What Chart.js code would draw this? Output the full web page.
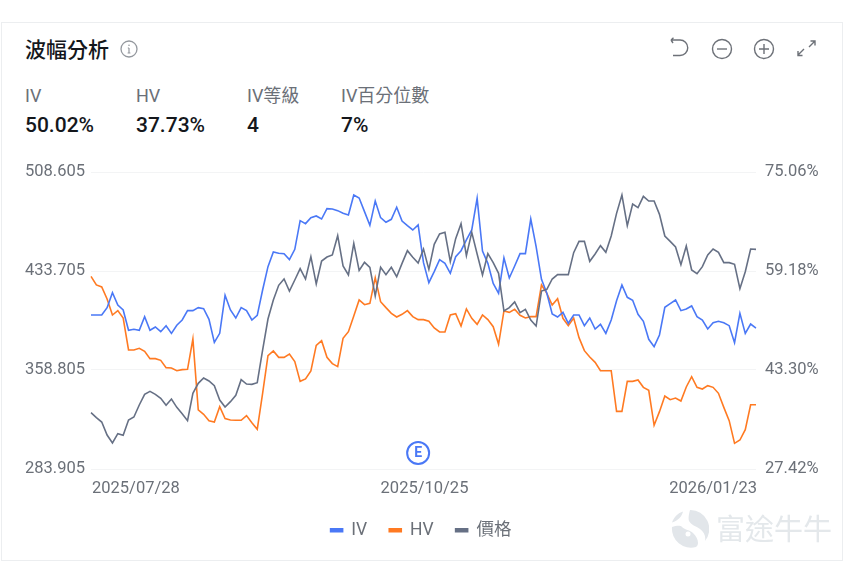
<!DOCTYPE html>
<html>
<head>
<meta charset="utf-8">
<title>波幅分析</title>
<script src="https://cdn.jsdelivr.net/npm/chart.js@4"></script>
<style>
    html, body { margin: 0; padding: 0; background: #fff; width: 852px; height: 566px; overflow: hidden; }
    body { font-family: Roboto, "Noto Sans CJK TC", sans-serif; position: relative; }
    #card { position: absolute; left: 1px; top: 22px; width: 840px; height: 537px; border: 1px solid #eceef0; background: #fff; }
    #title { position: absolute; left: 25px; top: 36px; font-size: 21px; line-height: 28px; font-weight: 500; color: #14171c; }
    .stat { position: absolute; top: 85px; }
    .stat .name { font-size: 18px; line-height: 22px; color: #6b7078; }
    .stat .val { margin-top: 6px; font-size: 21px; line-height: 24px; font-weight: 500; color: #14171c; }
    .icon { position: absolute; }
    #mark { position: absolute; left: 671px; top: 510px; width: 38px; height: 38px; }
    #markText { position: absolute; left: 716px; top: 511px; font-size: 29px; line-height: 38px; color: #e4e8eb; font-weight: 400; }
    #chart { position: absolute; left: 1px; top: 150px; }
</style>
</head>
<body>
<div id="card"></div>
<div id="title">波幅分析</div>
<svg class="icon" style="left:120px;top:40px" width="18" height="18" viewBox="0 0 18 18" fill="none" stroke="#94989e" stroke-width="1.3">
    <circle cx="9" cy="9" r="8"/>
    <path d="M9 8v5M7.6 13h2.8M7.8 8H9" stroke-width="1.2"/>
    <circle cx="9" cy="5.2" r="0.8" fill="#94989e" stroke="none"/>
</svg>
<div class="stat" style="left:25px"><div class="name">IV</div><div class="val">50.02%</div></div>
<div class="stat" style="left:136px"><div class="name">HV</div><div class="val">37.73%</div></div>
<div class="stat" style="left:247px"><div class="name">IV等級</div><div class="val">4</div></div>
<div class="stat" style="left:341px"><div class="name">IV百分位數</div><div class="val">7%</div></div>

<!-- toolbar -->
<svg class="icon" style="left:668px;top:36px" width="152" height="26" viewBox="0 0 152 26" fill="none" stroke="#6d7178" stroke-width="1.4">
    <path d="M3 4h9a7.5 7.5 0 0 1 0 15.500H5M3 4l2.500-2.200M3 4l2 3"/>
    <circle cx="54" cy="13" r="9.500"/>
    <path d="M49 13h10"/>
    <circle cx="96" cy="13" r="9.500"/>
    <path d="M91 13h10M96 8v10"/>
    <path d="M130 19l6-6M130 15v4.500h4.500M141 11l6-6M142.500 5h4.500v4.500"/>
</svg>

<canvas id="chart" width="840" height="409"></canvas>

<svg id="mark" viewBox="0 0 38 38">
    <path fill="#e2e6ea" d="M19 0a19 19 0 0 1 15 31c1-5-1-9-5-12-4-3-9-4-11-8-1-3 0-7 1-11zM12 1.500c-1 5-5 9-11 11C3 7 7 3 12 1.500zM1 17c4-1 8-2 10 0 3 3 8 3 11 6 3 3 5 6 5 10 0 2-1 3-2 4a19 19 0 0 1-24-20z"/>
    <circle cx="17" cy="24" r="2.500" fill="#fff"/>
</svg>
<div id="markText">富途牛牛</div>

<script>
const tickDates = ['2025/07/28', '2025/10/25', '2026/01/23'];
const tickIndexes = [0, 62, 124];
const pointCount = 125;

const priceTicks = [283.905, 358.805, 433.705, 508.605];
const pctTicks = [27.42, 43.30, 59.18, 75.06];

const ivValues = [
    52.12, 52.12, 52.12, 53.30, 55.71, 53.73, 52.93, 49.67, 49.83, 49.67,
    51.86, 49.67, 50.20, 49.45, 50.41, 49.18, 50.47, 51.32, 52.82, 52.82,
    53.30, 53.14, 51.43, 47.74, 49.18, 55.28, 52.93, 51.64, 53.30, 52.82,
    51.32, 52.07, 56.13, 59.88, 62.23, 62.02, 61.96, 61.00, 62.66, 67.26,
    66.78, 67.74, 68.01, 67.52, 69.18, 69.13, 68.86, 68.43, 68.17, 71.37,
    70.89, 68.70, 66.51, 70.41, 67.74, 66.99, 67.47, 69.40, 67.20, 66.45,
    65.76, 66.56, 60.52, 57.31, 59.08, 61.00, 60.41, 58.81, 61.48, 62.44,
    64.16, 65.76, 70.84, 62.39, 60.41, 57.20, 55.60, 61.27, 58.06, 59.98,
    61.96, 61.96, 67.52, 63.09, 57.85, 55.60, 52.29, 51.80, 52.55, 50.79,
    52.12, 52.12, 50.41, 51.64, 49.88, 50.63, 49.18, 51.32, 54.42, 56.94,
    54.96, 54.48, 52.23, 51.11, 48.22, 47.04, 48.92, 53.35, 53.94, 54.53,
    52.82, 53.09, 53.57, 51.86, 51.32, 49.88, 50.89, 51.11, 50.89, 50.41,
    47.69, 52.39, 49.18, 50.68, 50.02
];

const hvValues = [
    58.33, 56.94, 56.62, 54.69, 52.12, 52.82, 51.64, 46.51, 46.51, 46.78,
    46.30, 45.12, 45.12, 44.85, 43.68, 43.62, 43.19, 43.36, 43.41, 48.27,
    36.89, 36.19, 35.17, 34.96, 37.42, 35.50, 35.28, 35.23, 35.23, 35.98,
    34.85, 33.78, 39.56, 45.60, 46.35, 45.33, 45.33, 45.87, 44.64, 41.48,
    41.86, 43.14, 47.26, 48.01, 45.33, 44.32, 43.84, 48.38, 49.45, 51.96,
    54.53, 53.78, 54.00, 58.11, 54.26, 53.30, 52.39, 51.80, 52.23, 52.82,
    51.86, 51.38, 51.38, 51.11, 50.04, 49.40, 49.40, 52.12, 52.34, 50.36,
    53.09, 51.59, 50.63, 52.12, 51.38, 50.25, 47.42, 52.77, 52.55, 53.03,
    52.07, 51.64, 51.86, 51.86, 56.94, 55.60, 53.73, 54.74, 51.59, 50.41,
    51.64, 48.49, 46.40, 45.39, 44.53, 43.19, 43.19, 43.19, 36.67, 36.67,
    41.48, 41.48, 41.70, 40.52, 40.04, 34.43, 36.62, 39.13, 38.54, 38.81,
    38.33, 40.58, 42.23, 40.52, 40.25, 40.79, 40.52, 39.56, 37.31, 35.17,
    31.54, 32.07, 33.73, 37.73, 37.73
];

const priceValues = [
    326.52, 322.74, 319.46, 309.62, 303.57, 310.63, 309.37, 320.97, 323.24, 332.32,
    340.39, 342.66, 340.39, 337.37, 332.07, 336.86, 330.56, 325.76, 320.47, 341.15,
    348.71, 352.75, 350.48, 346.95, 336.10, 330.81, 334.84, 339.64, 351.49, 348.21,
    347.96, 349.22, 373.93, 397.39, 411.76, 422.86, 427.65, 418.57, 426.89, 435.47,
    427.65, 444.55, 423.87, 441.27, 444.29, 445.81, 460.43, 437.48, 430.68, 454.63,
    434.21, 440.26, 436.48, 414.79, 436.48, 430.93, 436.48, 429.41, 439.50, 449.09,
    444.04, 439.75, 450.35, 434.96, 453.88, 461.70, 462.96, 440.76, 458.16, 469.51,
    445.30, 462.96, 446.56, 430.68, 446.82, 440.01, 431.94, 403.44, 405.96, 410.25,
    402.18, 404.70, 396.63, 392.09, 418.57, 419.83, 427.65, 430.93, 430.93, 430.93,
    447.57, 456.15, 456.15, 441.02, 446.56, 452.87, 447.83, 460.18, 477.33, 491.20,
    468.00, 484.39, 481.62, 490.19, 486.66, 486.66, 476.57, 460.18, 456.15, 451.86,
    438.49, 452.62, 434.46, 431.68, 436.98, 445.81, 450.35, 447.83, 440.01, 440.01,
    438.75, 420.34, 433.20, 450.35, 450.09
];

// earnings marker sits low on the price axis
const earningsIndex = 61;
const earningsPrice = 296;

const IV_COLOR = '#4a78f6';
const HV_COLOR = '#ff7a22';
const PRICE_COLOR = '#667085';
const TICK_FONT = { family: 'Roboto, "Noto Sans CJK TC", sans-serif', size: 16.5 };

const categories = [];
for (let i = 0; i < pointCount; i++) {
    const at = tickIndexes.indexOf(i);
    categories.push(at >= 0 ? tickDates[at] : '');
}

const earningsBadge = {
    id: 'earningsBadge',
    afterDatasetsDraw(chart) {
        const x = chart.scales.x.getPixelForValue(earningsIndex);
        const y = chart.scales.yPrice.getPixelForValue(earningsPrice);
        const ctx = chart.ctx;
        ctx.save();
        ctx.beginPath();
        ctx.arc(x, y, 11, 0, Math.PI * 2);
        ctx.fillStyle = '#fff';
        ctx.fill();
        ctx.lineWidth = 2;
        ctx.strokeStyle = IV_COLOR;
        ctx.stroke();
        ctx.fillStyle = IV_COLOR;
        ctx.font = '700 14px Roboto';
        ctx.textAlign = 'center';
        ctx.textBaseline = 'middle';
        ctx.fillText('E', x, y + 0.5);
        ctx.restore();
    }
};

const makeLine = (label, data, color, yAxisID, order) => ({
    label,
    data,
    yAxisID,
    order,
    borderColor: color,
    backgroundColor: color,
    borderWidth: 1.6,
    pointRadius: 0,
    tension: 0,
    fill: false
});

new Chart(document.getElementById('chart').getContext('2d'), {
    type: 'line',
    plugins: [earningsBadge],
    data: {
        labels: categories,
        datasets: [
            makeLine('IV', ivValues, IV_COLOR, 'yPct', 1),
            makeLine('HV', hvValues, HV_COLOR, 'yPct', 2),
            makeLine('價格', priceValues, PRICE_COLOR, 'yPrice', 0)
        ]
    },
    options: {
        responsive: false,
        animation: false,
        events: [],
        layout: { padding: { top: 22, bottom: 10 } },
        plugins: {
            tooltip: { enabled: false },
            legend: {
                position: 'bottom',
                labels: {
                    boxWidth: 12,
                    boxHeight: 3,
                    padding: 22,
                    color: '#6b7078',
                    font: { family: TICK_FONT.family, size: 17.5 },
                    sort: (a, b) => a.datasetIndex - b.datasetIndex
                }
            }
        },
        scales: {
            x: {
                grid: { display: false, drawTicks: false },
                border: { display: false },
                ticks: {
                    autoSkip: false,
                    maxRotation: 0,
                    align: 'inner',
                    padding: 9.5,
                    labelOffset: 1,
                    color: '#6b7078',
                    font: TICK_FONT
                },
                afterFit(scale) { scale.height = 30.5; }
            },
            yPrice: {
                position: 'left',
                min: priceTicks[0],
                max: priceTicks[3],
                grid: { color: '#f3f4f5', drawTicks: false },
                border: { display: false },
                afterBuildTicks(scale) { scale.ticks = priceTicks.map((value) => ({ value })); },
                afterFit(scale) { scale.width = 90; },
                ticks: {
                    padding: 6,
                    color: '#6b7078',
                    font: TICK_FONT,
                    callback: (v) => v.toFixed(3)
                }
            },
            yPct: {
                position: 'right',
                min: pctTicks[0],
                max: pctTicks[3],
                grid: { display: false, drawTicks: false },
                border: { display: false },
                afterBuildTicks(scale) { scale.ticks = pctTicks.map((value) => ({ value })); },
                afterFit(scale) { scale.width = 85; },
                ticks: {
                    padding: 9,
                    color: '#6b7078',
                    font: TICK_FONT,
                    callback: (v) => v.toFixed(2) + '%'
                }
            }
        }
    }
});
</script>
</body>
</html>
